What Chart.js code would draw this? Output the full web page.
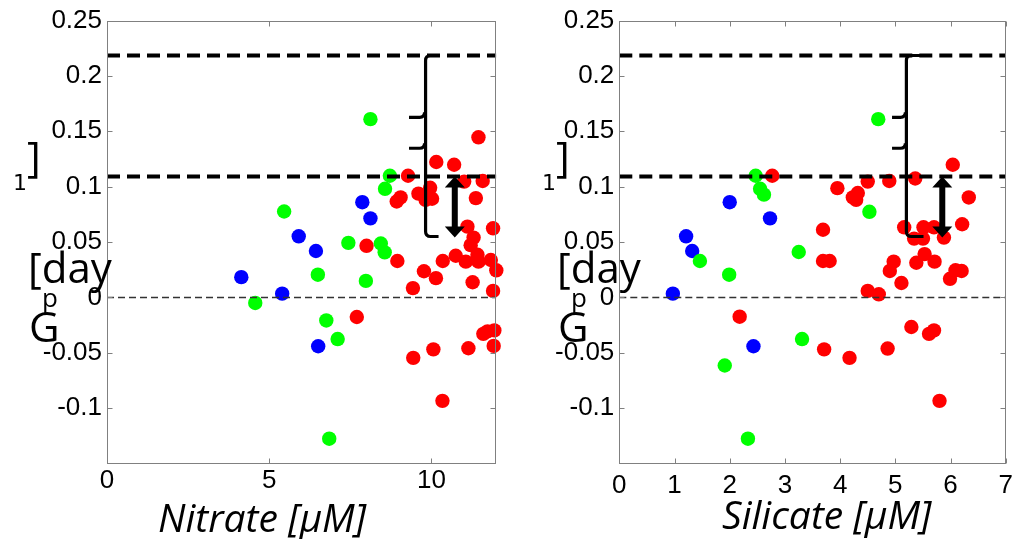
<!DOCTYPE html>
<html>
<head>
<meta charset="utf-8">
<script src="https://cdn.jsdelivr.net/npm/chart.js@4.4.1/dist/chart.umd.min.js"></script>
<style>
  html, body { margin: 0; padding: 0; background: #fff; }
  #wrap { position: relative; width: 1020px; height: 539px; overflow: hidden; }
  canvas { position: absolute; top: 0; }
  #left { left: 0; }
  #right { left: 510px; }
</style>
</head>
<body>
<div id="wrap">
  <canvas id="left" width="510" height="539"></canvas>
  <canvas id="right" width="510" height="539"></canvas>
</div>
<script>
// ---- data ----
const yTicks = [-0.1, -0.05, 0, 0.05, 0.1, 0.15, 0.2, 0.25];
const nitrateTicks = [0, 5, 10];
const silicateTicks = [0, 1, 2, 3, 4, 5, 6, 7];

// horizontal reference lines (thick dashed) and the zero line
const thresholds = [0.2185, 0.1092];
const zeroLine = [0];

// Nitrate panel [x, Gp]
const nitrateBlue = [
  [4.14, 0.0183], [5.40, 0.0034], [5.91, 0.0552], [6.44, 0.0419],
  [6.51, -0.0441], [7.87, 0.0860], [8.12, 0.0714]
];
const nitrateGreen = [
  [4.57, -0.0050], [5.46, 0.0776], [6.50, 0.0205], [6.76, -0.0208],
  [7.11, -0.0376], [6.85, -0.1276], [7.44, 0.0493], [7.98, 0.0149],
  [8.12, 0.1610], [8.44, 0.0487], [8.56, 0.0407], [8.57, 0.0981],
  [8.72, 0.1099]
];
const nitrateRed = [
  [7.70, -0.0177], [8.00, 0.0466], [8.95, 0.0329], [8.93, 0.0866],
  [9.05, 0.0903], [9.28, 0.1099], [9.43, 0.0084], [9.44, -0.0546],
  [9.60, 0.0937], [9.77, 0.0236], [9.82, 0.0881], [9.96, 0.0990],
  [10.02, 0.0891], [10.06, -0.0469], [10.14, 0.0174], [10.15, 0.1223],
  [10.35, 0.0329], [10.34, -0.0934], [10.70, 0.1198], [10.75, 0.0376],
  [11.01, 0.1046], [11.11, 0.0639], [11.06, 0.0323], [11.14, -0.0459],
  [11.27, 0.0137], [11.30, 0.0540], [11.21, 0.0472], [11.37, 0.0897],
  [11.42, 0.0385], [11.45, 0.1446], [11.45, 0.0323], [11.58, 0.1052],
  [11.60, -0.0329], [11.73, -0.0307], [11.83, 0.0338], [11.90, 0.0624],
  [11.90, 0.0059], [11.92, -0.0438], [11.94, -0.0298], [12.00, 0.0245]
];

// Silicate panel [x, Gp]
const silicateBlue = [
  [0.97, 0.0034], [1.21, 0.0552], [1.32, 0.0419], [2.00, 0.0860],
  [2.43, -0.0441], [2.73, 0.0714]
];
const silicateGreen = [
  [1.46, 0.0329], [1.99, 0.0205], [1.91, -0.0615], [2.33, -0.1276],
  [2.47, 0.1099], [2.55, 0.0981], [2.62, 0.0928], [3.25, 0.0410],
  [3.31, -0.0376], [4.53, 0.0773], [4.69, 0.1610]
];
const silicateRed = [
  [2.18, -0.0174], [2.77, 0.1099], [3.69, 0.0611], [3.69, 0.0329],
  [3.81, 0.0329], [3.71, -0.0469], [3.95, 0.0987], [4.17, -0.0546],
  [4.23, 0.0903], [4.32, 0.0943], [4.29, 0.0881], [4.50, 0.1046],
  [4.50, 0.0059], [4.70, 0.0028], [4.86, -0.0462], [4.89, 0.1052],
  [4.90, 0.0239], [4.97, 0.0323], [5.11, 0.0130], [5.16, 0.0633],
  [5.29, -0.0267], [5.36, 0.1074], [5.34, 0.0531], [5.38, 0.0313],
  [5.50, 0.0531], [5.51, 0.0633], [5.53, 0.0391], [5.61, -0.0329],
  [5.70, -0.0298], [5.71, 0.0323], [5.70, 0.0633], [5.80, -0.0934],
  [5.88, 0.0540], [5.99, 0.0168], [6.04, 0.1198], [6.09, 0.0245],
  [6.20, 0.0239], [6.21, 0.0661], [6.33, 0.0903]
];

// bracket: y of top, two nubs, bottom; x of nub end, spine, hook end
const bracketYs = [0.2185, 0.1626, 0.1347, 0.055];
const nitrateBracketXs = [9.31, 9.82, 10.22];
const silicateBracketXs = [4.94, 5.20, 5.51];
// double arrow between the lower dashed line and the bracket bottom
const arrowYs = [0.1092, 0.054];
const nitrateArrowX = [10.72];
const silicateArrowX = [5.85];

const toPts = arr => arr.map(p => ({ x: p[0], y: p[1] }));

function hLine(y, xmax, width, dash, color) {
  return {
    type: "line",
    data: [{ x: 0, y: y }, { x: xmax, y: y }],
    borderColor: color,
    borderWidth: width,
    borderDash: dash,
    pointRadius: 0,
    order: 0
  };
}

function dots(arr, color, order) {
  return {
    data: toPts(arr),
    backgroundColor: color,
    borderWidth: 0,
    pointRadius: 7.2,
    pointHoverRadius: 7.2,
    clip: false,
    order: order
  };
}

// frame, inward ticks, bracket, arrow and the text labels
const decorPlugin = {
  id: "decor",
  afterDatasetsDraw(chart, args, o) {
    const ctx = chart.ctx;
    const xs = chart.scales.x, ys = chart.scales.y;
    const px = v => xs.getPixelForValue(v);
    const py = v => ys.getPixelForValue(v);

    // bracket
    const [nx, sx, hx] = o.bracketXs.map(px);
    const [ty, n1, n2, by] = bracketYs.map(py);
    ctx.save();
    ctx.strokeStyle = "#000";
    ctx.lineWidth = 3.2;
    ctx.lineJoin = "round";
    ctx.beginPath();
    ctx.moveTo(hx, ty);
    ctx.lineTo(sx + 5, ty);
    ctx.quadraticCurveTo(sx, ty, sx, ty + 5);
    ctx.lineTo(sx, by - 5);
    ctx.quadraticCurveTo(sx, by, sx + 5, by);
    ctx.lineTo(hx, by);
    [n1, n2].forEach(ny => {
      ctx.moveTo(nx, ny);
      ctx.lineTo(sx - 6, ny);
      ctx.quadraticCurveTo(sx - 1, ny, sx - 1, ny - 5);
    });
    ctx.stroke();

    // double arrow
    const ax = px(o.arrowX[0]);
    const a1 = py(arrowYs[0]), a2 = py(arrowYs[1]);
    ctx.fillStyle = "#000";
    ctx.fillRect(ax - 3, a1 + 10, 6, a2 - a1 - 20);
    ctx.beginPath();
    ctx.moveTo(ax, a1);
    ctx.lineTo(ax - 10, a1 + 11);
    ctx.lineTo(ax + 10, a1 + 11);
    ctx.closePath();
    ctx.moveTo(ax, a2);
    ctx.lineTo(ax - 10, a2 - 11);
    ctx.lineTo(ax + 10, a2 - 11);
    ctx.closePath();
    ctx.fill();
    ctx.restore();
  },
  afterDraw(chart, args, o) {
    const ctx = chart.ctx;
    const { left, right, top, bottom } = chart.chartArea;
    const xs = chart.scales.x, ys = chart.scales.y;
    ctx.save();
    ctx.strokeStyle = "#808080";
    ctx.lineWidth = 1;
    const L = Math.round(left) + 0.5, R = Math.round(right) - 0.5;
    const T = Math.round(top) + 0.5, B = Math.round(bottom) - 0.5;
    ctx.strokeRect(L, T, R - L, B - T);
    ctx.beginPath();
    yTicks.forEach(v => {
      const y = Math.round(ys.getPixelForValue(v)) + 0.5;
      ctx.moveTo(L, y); ctx.lineTo(L + 5, y);
      ctx.moveTo(R, y); ctx.lineTo(R - 5, y);
    });
    o.xTicks.forEach(v => {
      const x = Math.round(xs.getPixelForValue(v)) + 0.5;
      ctx.moveTo(x, B); ctx.lineTo(x, B - 5);
      ctx.moveTo(x, T); ctx.lineTo(x, T + 5);
    });
    ctx.stroke();

    // axis titles (the y label is broken up in the original figure)
    ctx.fillStyle = "#000";
    ctx.textBaseline = "alphabetic";
    ctx.textAlign = "left";
    ctx.font = "italic 39px 'Open Sans'";
    ctx.fillText(o.title, o.titleX, o.titleY);
    const g = o.gx;
    ctx.font = "42px 'Open Sans'";
    ctx.fillText("]", g + 0, 172);
    ctx.fillText("[day", g + 1, 283);
    ctx.fillText("G", g + 2, 342);
    ctx.font = "26px 'Open Sans'";
    ctx.fillText("p", g + 15, 307);
    ctx.font = "22px 'DejaVu Sans'";
    ctx.fillText("1", g - 14, 190);
    ctx.restore();
  }
};

function makeChart(id, o) {
  return new Chart(document.getElementById(id), {
    type: "scatter",
    data: {
      datasets: [
        hLine(thresholds[0], o.xmax, 4, [13, 7], "#000"),
        hLine(thresholds[1], o.xmax, 4, [13, 7], "#000"),
        hLine(zeroLine[0], o.xmax, 1.5, [7, 4], "#333"),
        dots(o.red, "#ff0000", 1),
        dots(o.green, "#00ff00", 2),
        dots(o.blue, "#0000ff", 3)
      ]
    },
    options: {
      responsive: false,
      animation: false,
      devicePixelRatio: 1,
      events: [],
      layout: { padding: { top: 20.5, right: o.padRight, left: 0, bottom: 0 } },
      plugins: {
        legend: { display: false },
        tooltip: { enabled: false },
        decor: o
      },
      scales: {
        x: {
          type: "linear",
          min: 0,
          max: o.xmax,
          grid: { display: false, drawTicks: false },
          border: { display: false },
          afterBuildTicks: s => { s.ticks = o.xTicks.map(v => ({ value: v })); },
          afterFit: s => { s.height = 75.5; },
          ticks: {
            color: "#000",
            padding: o.xPad,
            maxRotation: 0,
            font: { family: "'Liberation Sans', Arial, sans-serif", size: 26 },
            callback: v => String(v)
          }
        },
        y: {
          type: "linear",
          min: -0.15,
          max: 0.25,
          grid: { display: false, drawTicks: false },
          border: { display: false },
          afterBuildTicks: s => { s.ticks = yTicks.map(v => ({ value: v })); },
          afterFit: s => { s.width = o.yWidth; },
          ticks: {
            color: "#000",
            padding: 5,
            font: { family: "'Liberation Sans', Arial, sans-serif", size: 26 },
            callback: v => String(v)
          }
        }
      }
    },
    plugins: [decorPlugin]
  });
}

makeChart("left", {
  xmax: 12, xTicks: nitrateTicks, yWidth: 107, padRight: 13.7, xPad: 2,
  red: nitrateRed, green: nitrateGreen, blue: nitrateBlue,
  bracketXs: nitrateBracketXs, arrowX: nitrateArrowX,
  title: "Nitrate [\u03bcM]", titleX: 158, titleY: 532, gx: 27
});

makeChart("right", {
  xmax: 7, xTicks: silicateTicks, yWidth: 109.3, padRight: 13, xPad: 7,
  red: silicateRed, green: silicateGreen, blue: silicateBlue,
  bracketXs: silicateBracketXs, arrowX: silicateArrowX,
  title: "Silicate [\u03bcM]", titleX: 212, titleY: 528.5, gx: 46
});
</script>
</body>
</html>
